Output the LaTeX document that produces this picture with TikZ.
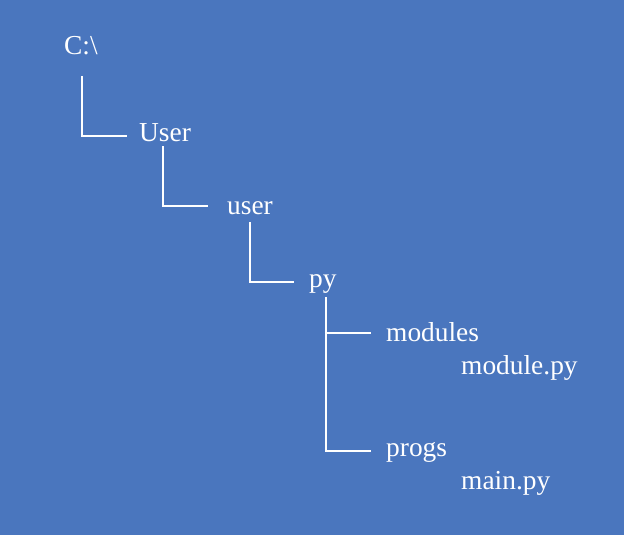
\documentclass[tikz,border=0pt]{standalone}
\usepackage{fontspec}
\setmainfont{Liberation Serif}
\usetikzlibrary{calc}
\definecolor{bgblue}{HTML}{4A76BE}

\begin{document}
\begin{tikzpicture}[x=1pt, y=-1pt, font=\fontsize{27.4}{32}\selectfont,
    dir/.style={text=white, inner sep=0pt, anchor=base west},
    branch/.style={draw=white, line width=2.8pt}]
    % Hintergrund
    \fill[bgblue] (0,0) rectangle (624,535);

    % Verzeichnisse
    \node[dir] (root) at (64,55) {C:\textbackslash};
    \node[dir] (User) at (139,141) {User};
    \node[dir] (user) at (227,214) {user};
    \node[dir] (py) at (309,287) {py};
    \node[dir] (modules) at (386,341) {modules};
    \node[dir] (modfile) at (461,374) {module.py};
    \node[dir] (progs) at (386,456) {progs};
    \node[dir] (mainfile) at (461,489) {main.py};

    % Verbindungen
    \draw[branch] ($(root.base west)+(18,21)$) |- ($(User.base west)+(-12,-5)$);
    \draw[branch] ($(User.base west)+(24,5)$) |- ($(user.base west)+(-19,-8)$);
    \draw[branch] ($(user.base west)+(23,8)$) |- ($(py.base west)+(-15,-5)$);
    \draw[branch] ($(py.base west)+(17,10)$) |- ($(progs.base west)+(-15,-5)$);
    \draw[branch] ($(py.base west)+(17,46)$) -- ($(modules.base west)+(-15,-8)$);
\end{tikzpicture}
\end{document}
